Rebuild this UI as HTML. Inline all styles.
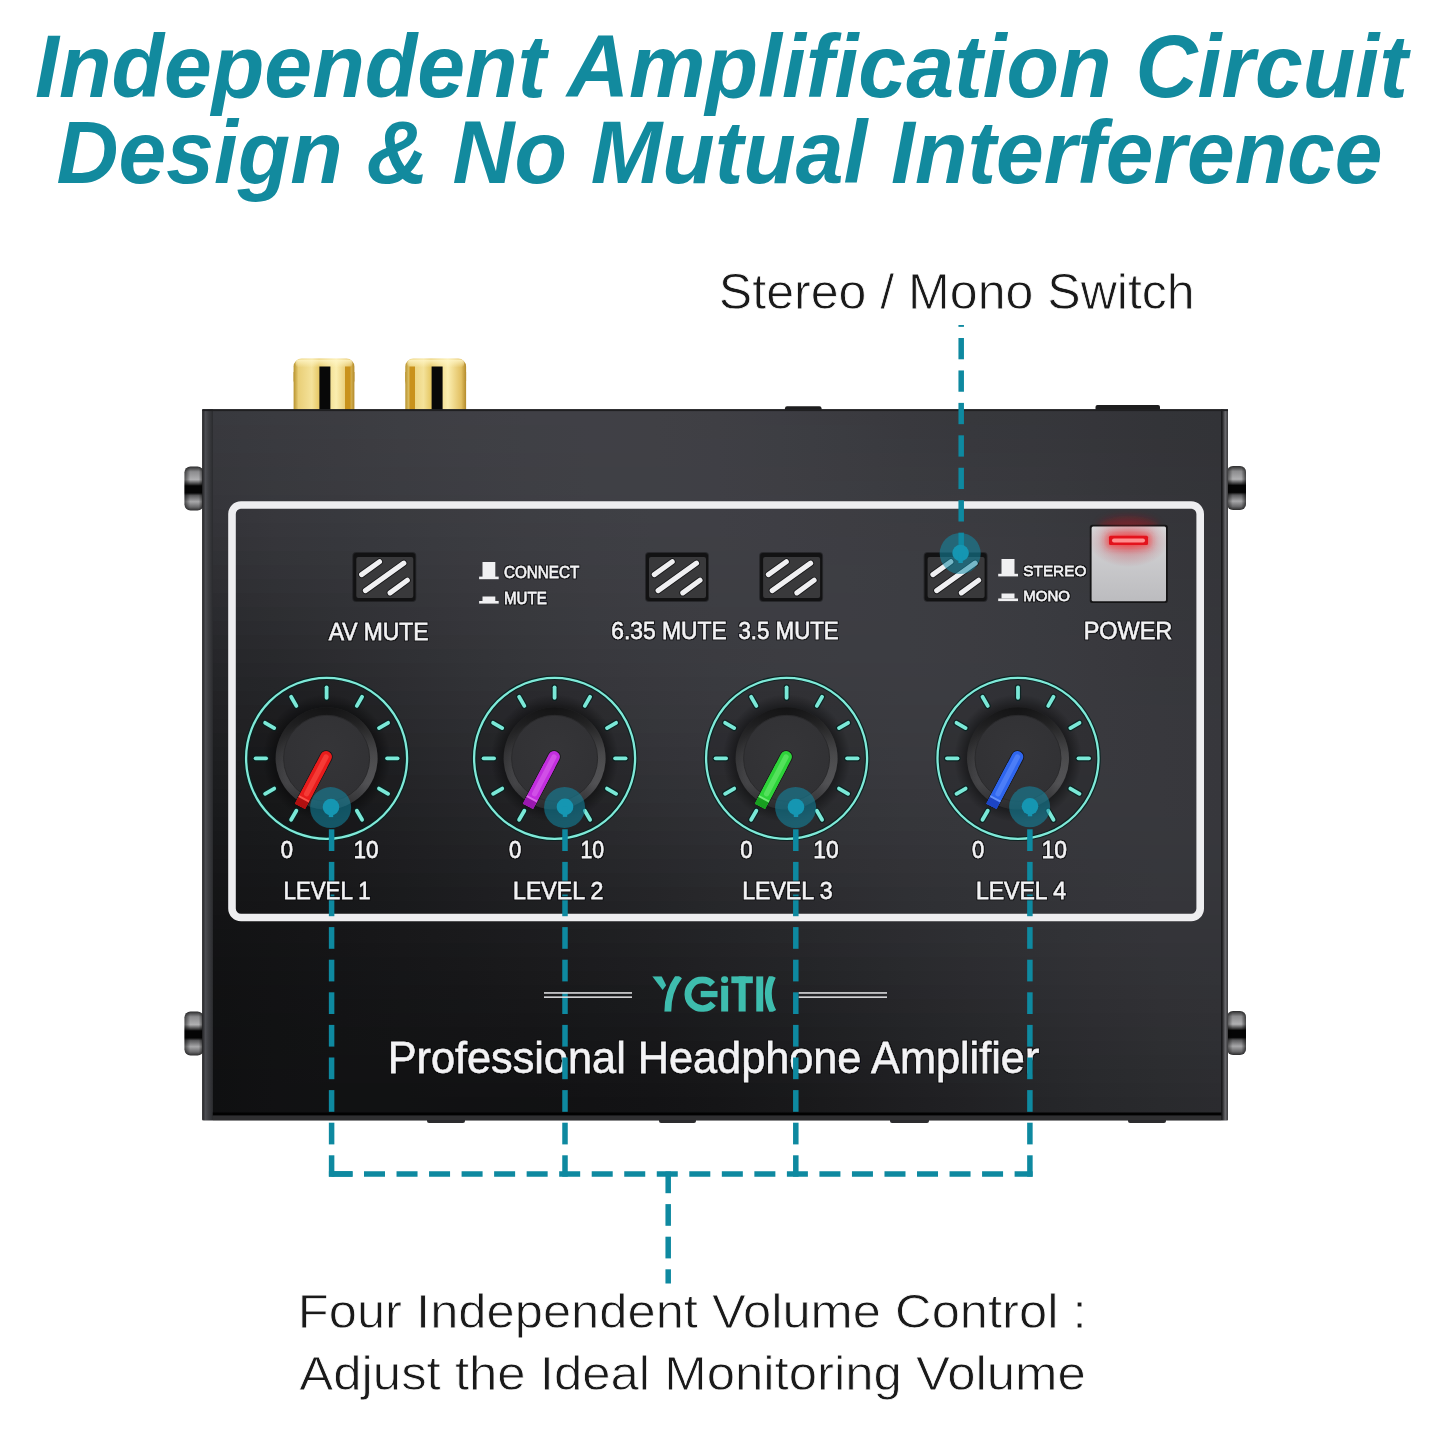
<!DOCTYPE html>
<html><head><meta charset="utf-8">
<style>
html,body{margin:0;padding:0;background:#fff;width:1445px;height:1445px;overflow:hidden}
svg{display:block}
text{font-family:"Liberation Sans",sans-serif}
.lbl{stroke:#f3f3f5;stroke-width:0.35px;filter:url(#halo)}
svg{will-change:transform}
</style></head>
<body>
<svg width="1445" height="1445" viewBox="0 0 1445 1445">
<defs>
  <linearGradient id="gold" x1="0" y1="0" x2="1" y2="0">
    <stop offset="0" stop-color="#b8932e"/>
    <stop offset="0.08" stop-color="#e9cf78"/>
    <stop offset="0.3" stop-color="#f4e29a"/>
    <stop offset="0.42" stop-color="#e6c865"/>
    <stop offset="0.7" stop-color="#fbeeb0"/>
    <stop offset="0.92" stop-color="#e2c062"/>
    <stop offset="1" stop-color="#b38a2a"/>
  </linearGradient>
  <linearGradient id="goldtop" x1="0" y1="0" x2="0" y2="1">
    <stop offset="0" stop-color="#fff6c8" stop-opacity="0.9"/>
    <stop offset="1" stop-color="#fff6c8" stop-opacity="0"/>
  </linearGradient>
  <linearGradient id="screw" x1="0" y1="0" x2="0" y2="1">
    <stop offset="0" stop-color="#2a2a2b"/>
    <stop offset="0.12" stop-color="#8c8c8e"/>
    <stop offset="0.3" stop-color="#b0b0b2"/>
    <stop offset="0.4" stop-color="#3a3a3b"/>
    <stop offset="0.44" stop-color="#050505"/>
    <stop offset="0.6" stop-color="#050505"/>
    <stop offset="0.66" stop-color="#5a5a5c"/>
    <stop offset="0.8" stop-color="#a8a8aa"/>
    <stop offset="0.92" stop-color="#6a6a6c"/>
    <stop offset="1" stop-color="#2a2a2b"/>
  </linearGradient>
  <linearGradient id="screwx" x1="0" y1="0" x2="1" y2="0">
    <stop offset="0" stop-color="#000" stop-opacity="0.55"/>
    <stop offset="0.3" stop-color="#000" stop-opacity="0"/>
    <stop offset="0.75" stop-color="#000" stop-opacity="0"/>
    <stop offset="1" stop-color="#000" stop-opacity="0.6"/>
  </linearGradient>
  <linearGradient id="pwr" x1="0" y1="0" x2="0" y2="1">
    <stop offset="0" stop-color="#d6d6d8"/>
    <stop offset="1" stop-color="#bcbcbf"/>
  </linearGradient>
  <linearGradient id="upper" gradientUnits="userSpaceOnUse" x1="0" y1="411" x2="0" y2="540">
    <stop offset="0" stop-color="#3a3b3f"/>
    <stop offset="1" stop-color="#36373b"/>
  </linearGradient>
  <radialGradient id="paneldark" cx="0.0" cy="1" r="0.75">
    <stop offset="0" stop-color="#000" stop-opacity="0.6"/>
    <stop offset="0.45" stop-color="#000" stop-opacity="0.35"/>
    <stop offset="1" stop-color="#000" stop-opacity="0"/>
  </radialGradient>
  <linearGradient id="facedark" gradientUnits="userSpaceOnUse" x1="800" y1="744" x2="558.6" y2="1274.6">
    <stop offset="0" stop-color="#000" stop-opacity="0"/>
    <stop offset="1" stop-color="#000" stop-opacity="0.917"/>
  </linearGradient>
  <linearGradient id="lower" gradientUnits="userSpaceOnUse" x1="213" y1="1112" x2="1221" y2="925">
    <stop offset="0" stop-color="#0d0d0e"/>
    <stop offset="0.45" stop-color="#141415"/>
    <stop offset="0.8" stop-color="#1f1f21"/>
    <stop offset="1" stop-color="#2a2a2d"/>
  </linearGradient>
  <linearGradient id="sideL" x1="0" y1="0" x2="1" y2="0">
    <stop offset="0" stop-color="#232325"/>
    <stop offset="0.3" stop-color="#4c4d52"/>
    <stop offset="0.6" stop-color="#3c3d41"/>
    <stop offset="1" stop-color="#2b2c2f"/>
  </linearGradient>
  <linearGradient id="sideR" x1="0" y1="0" x2="1" y2="0">
    <stop offset="0" stop-color="#0c0c0d"/>
    <stop offset="0.2" stop-color="#2a2a2c"/>
    <stop offset="0.6" stop-color="#6a6a6e"/>
    <stop offset="1" stop-color="#3a3a3c"/>
  </linearGradient>
  <radialGradient id="skirt" cx="0.62" cy="0.5" r="0.62">
    <stop offset="0" stop-color="#6a6a6c"/>
    <stop offset="0.6" stop-color="#4a4a4c"/>
    <stop offset="1" stop-color="#1e1e1f"/>
  </radialGradient>
  <radialGradient id="skirtL" cx="0.5" cy="0.62" r="0.55">
    <stop offset="0.75" stop-color="#3e3e41"/>
    <stop offset="1" stop-color="#2c2c2e"/>
  </radialGradient>
  <linearGradient id="skirtHL" x1="0" y1="0" x2="1" y2="0">
    <stop offset="0" stop-color="#fff" stop-opacity="0.04"/>
    <stop offset="0.5" stop-color="#fff" stop-opacity="0"/>
    <stop offset="0.82" stop-color="#fff" stop-opacity="0.06"/>
    <stop offset="1" stop-color="#fff" stop-opacity="0.16"/>
  </linearGradient>
  <linearGradient id="skirtTop" x1="0" y1="0" x2="0" y2="1">
    <stop offset="0" stop-color="#000" stop-opacity="0.55"/>
    <stop offset="0.45" stop-color="#000" stop-opacity="0.1"/>
    <stop offset="0.75" stop-color="#000" stop-opacity="0"/>
    <stop offset="1" stop-color="#000" stop-opacity="0.35"/>
  </linearGradient>
  <radialGradient id="cap" cx="0.5" cy="0.4" r="0.6">
    <stop offset="0" stop-color="#353538"/>
    <stop offset="1" stop-color="#313134"/>
  </radialGradient>
  <radialGradient id="knobshadow" cx="0.5" cy="0.5" r="0.5">
    <stop offset="0.7" stop-color="#000" stop-opacity="0.6"/>
    <stop offset="0.85" stop-color="#000" stop-opacity="0.3"/>
    <stop offset="1" stop-color="#000" stop-opacity="0"/>
  </radialGradient>
  <clipPath id="logoclip"><rect x="0" y="108" width="1500" height="342"/></clipPath>
  <filter id="halo" x="-5%" y="-20%" width="110%" height="140%">
    <feMorphology in="SourceAlpha" operator="dilate" radius="0.9" result="d"/>
    <feGaussianBlur in="d" stdDeviation="0.5" result="b"/>
    <feFlood flood-color="#0b0b0c" flood-opacity="0.8"/>
    <feComposite in2="b" operator="in" result="sh"/>
    <feMerge><feMergeNode in="sh"/><feMergeNode in="SourceGraphic"/></feMerge>
  </filter>
  <radialGradient id="ledglow" cx="0.5" cy="0.5" r="0.5">
    <stop offset="0" stop-color="#e8202a" stop-opacity="0.55"/>
    <stop offset="0.5" stop-color="#d02030" stop-opacity="0.25"/>
    <stop offset="1" stop-color="#c02030" stop-opacity="0"/>
  </radialGradient>
  <filter id="glow" x="-50%" y="-100%" width="200%" height="300%">
    <feGaussianBlur stdDeviation="3.5"/>
  </filter>
  <filter id="soft" x="-10%" y="-10%" width="120%" height="120%">
    <feGaussianBlur stdDeviation="0.6"/>
  </filter>
  <linearGradient id="fs0"><stop offset="0.000" stop-color="#38393e"/><stop offset="0.062" stop-color="#3a3b40"/><stop offset="0.125" stop-color="#3c3c41"/><stop offset="0.188" stop-color="#3d3e43"/><stop offset="0.250" stop-color="#3f3f45"/><stop offset="0.312" stop-color="#404046"/><stop offset="0.375" stop-color="#404046"/><stop offset="0.438" stop-color="#404045"/><stop offset="0.500" stop-color="#3f3f44"/><stop offset="0.562" stop-color="#3d3d43"/><stop offset="0.625" stop-color="#3b3b40"/><stop offset="0.688" stop-color="#39393e"/><stop offset="0.750" stop-color="#37383c"/><stop offset="0.812" stop-color="#36373b"/><stop offset="0.875" stop-color="#35353a"/><stop offset="0.938" stop-color="#333438"/><stop offset="1.000" stop-color="#323337"/></linearGradient>
<linearGradient id="fs1"><stop offset="0.000" stop-color="#38383d"/><stop offset="0.062" stop-color="#3a3a3f"/><stop offset="0.125" stop-color="#3b3c41"/><stop offset="0.188" stop-color="#3d3e43"/><stop offset="0.250" stop-color="#3f3f44"/><stop offset="0.312" stop-color="#3f4045"/><stop offset="0.375" stop-color="#404046"/><stop offset="0.438" stop-color="#404045"/><stop offset="0.500" stop-color="#3f3f44"/><stop offset="0.562" stop-color="#3d3e43"/><stop offset="0.625" stop-color="#3b3c41"/><stop offset="0.688" stop-color="#39393e"/><stop offset="0.750" stop-color="#37383d"/><stop offset="0.812" stop-color="#36373c"/><stop offset="0.875" stop-color="#35353a"/><stop offset="0.938" stop-color="#333438"/><stop offset="1.000" stop-color="#323337"/></linearGradient>
<linearGradient id="fs2"><stop offset="0.000" stop-color="#37383d"/><stop offset="0.062" stop-color="#393a3f"/><stop offset="0.125" stop-color="#3b3b40"/><stop offset="0.188" stop-color="#3d3d42"/><stop offset="0.250" stop-color="#3e3f44"/><stop offset="0.312" stop-color="#3f4045"/><stop offset="0.375" stop-color="#404046"/><stop offset="0.438" stop-color="#404045"/><stop offset="0.500" stop-color="#3f3f45"/><stop offset="0.562" stop-color="#3d3e43"/><stop offset="0.625" stop-color="#3b3c41"/><stop offset="0.688" stop-color="#393a3f"/><stop offset="0.750" stop-color="#38383d"/><stop offset="0.812" stop-color="#37373c"/><stop offset="0.875" stop-color="#35363a"/><stop offset="0.938" stop-color="#343438"/><stop offset="1.000" stop-color="#323337"/></linearGradient>
<linearGradient id="fs3"><stop offset="0.000" stop-color="#37373c"/><stop offset="0.062" stop-color="#39393e"/><stop offset="0.125" stop-color="#3b3b40"/><stop offset="0.188" stop-color="#3c3d42"/><stop offset="0.250" stop-color="#3e3e44"/><stop offset="0.312" stop-color="#3f3f45"/><stop offset="0.375" stop-color="#404045"/><stop offset="0.438" stop-color="#404045"/><stop offset="0.500" stop-color="#3f3f45"/><stop offset="0.562" stop-color="#3d3e43"/><stop offset="0.625" stop-color="#3c3c41"/><stop offset="0.688" stop-color="#3a3a3f"/><stop offset="0.750" stop-color="#38393e"/><stop offset="0.812" stop-color="#37383c"/><stop offset="0.875" stop-color="#36363b"/><stop offset="0.938" stop-color="#343439"/><stop offset="1.000" stop-color="#333337"/></linearGradient>
<linearGradient id="fs4"><stop offset="0.000" stop-color="#36373b"/><stop offset="0.062" stop-color="#38393e"/><stop offset="0.125" stop-color="#3a3b40"/><stop offset="0.188" stop-color="#3c3c41"/><stop offset="0.250" stop-color="#3d3e43"/><stop offset="0.312" stop-color="#3f3f44"/><stop offset="0.375" stop-color="#3f4045"/><stop offset="0.438" stop-color="#3f4045"/><stop offset="0.500" stop-color="#3f3f45"/><stop offset="0.562" stop-color="#3e3e43"/><stop offset="0.625" stop-color="#3c3c41"/><stop offset="0.688" stop-color="#3a3b3f"/><stop offset="0.750" stop-color="#39393e"/><stop offset="0.812" stop-color="#38383d"/><stop offset="0.875" stop-color="#36363b"/><stop offset="0.938" stop-color="#343539"/><stop offset="1.000" stop-color="#333338"/></linearGradient>
<linearGradient id="fs5"><stop offset="0.000" stop-color="#36363b"/><stop offset="0.062" stop-color="#38393d"/><stop offset="0.125" stop-color="#3a3a3f"/><stop offset="0.188" stop-color="#3b3c41"/><stop offset="0.250" stop-color="#3d3d43"/><stop offset="0.312" stop-color="#3e3f44"/><stop offset="0.375" stop-color="#3f4045"/><stop offset="0.438" stop-color="#3f4045"/><stop offset="0.500" stop-color="#3f3f45"/><stop offset="0.562" stop-color="#3e3e43"/><stop offset="0.625" stop-color="#3c3d42"/><stop offset="0.688" stop-color="#3a3b40"/><stop offset="0.750" stop-color="#393a3f"/><stop offset="0.812" stop-color="#38393d"/><stop offset="0.875" stop-color="#36373b"/><stop offset="0.938" stop-color="#343539"/><stop offset="1.000" stop-color="#333438"/></linearGradient>
<linearGradient id="fs6"><stop offset="0.000" stop-color="#35353a"/><stop offset="0.062" stop-color="#37383d"/><stop offset="0.125" stop-color="#39393e"/><stop offset="0.188" stop-color="#3b3b40"/><stop offset="0.250" stop-color="#3c3d42"/><stop offset="0.312" stop-color="#3e3e44"/><stop offset="0.375" stop-color="#3f3f45"/><stop offset="0.438" stop-color="#3f4045"/><stop offset="0.500" stop-color="#3f3f45"/><stop offset="0.562" stop-color="#3e3e44"/><stop offset="0.625" stop-color="#3c3d42"/><stop offset="0.688" stop-color="#3b3b40"/><stop offset="0.750" stop-color="#3a3a3f"/><stop offset="0.812" stop-color="#39393e"/><stop offset="0.875" stop-color="#37373c"/><stop offset="0.938" stop-color="#35353a"/><stop offset="1.000" stop-color="#333438"/></linearGradient>
<linearGradient id="fs7"><stop offset="0.000" stop-color="#343439"/><stop offset="0.062" stop-color="#37373c"/><stop offset="0.125" stop-color="#38393e"/><stop offset="0.188" stop-color="#3a3b3f"/><stop offset="0.250" stop-color="#3c3c41"/><stop offset="0.312" stop-color="#3d3e43"/><stop offset="0.375" stop-color="#3e3f44"/><stop offset="0.438" stop-color="#3f4045"/><stop offset="0.500" stop-color="#3f3f45"/><stop offset="0.562" stop-color="#3e3e44"/><stop offset="0.625" stop-color="#3d3d42"/><stop offset="0.688" stop-color="#3b3c41"/><stop offset="0.750" stop-color="#3a3b40"/><stop offset="0.812" stop-color="#393a3e"/><stop offset="0.875" stop-color="#37373c"/><stop offset="0.938" stop-color="#35353a"/><stop offset="1.000" stop-color="#343438"/></linearGradient>
<linearGradient id="fs8"><stop offset="0.000" stop-color="#333338"/><stop offset="0.062" stop-color="#36363b"/><stop offset="0.125" stop-color="#37383d"/><stop offset="0.188" stop-color="#393a3f"/><stop offset="0.250" stop-color="#3b3c41"/><stop offset="0.312" stop-color="#3d3d42"/><stop offset="0.375" stop-color="#3e3e44"/><stop offset="0.438" stop-color="#3f3f45"/><stop offset="0.500" stop-color="#3f3f45"/><stop offset="0.562" stop-color="#3e3e44"/><stop offset="0.625" stop-color="#3d3d42"/><stop offset="0.688" stop-color="#3c3c41"/><stop offset="0.750" stop-color="#3b3b40"/><stop offset="0.812" stop-color="#393a3f"/><stop offset="0.875" stop-color="#37383c"/><stop offset="0.938" stop-color="#35363a"/><stop offset="1.000" stop-color="#343439"/></linearGradient>
<linearGradient id="fs9"><stop offset="0.000" stop-color="#323236"/><stop offset="0.062" stop-color="#35353a"/><stop offset="0.125" stop-color="#36373c"/><stop offset="0.188" stop-color="#38393e"/><stop offset="0.250" stop-color="#3a3b40"/><stop offset="0.312" stop-color="#3c3d42"/><stop offset="0.375" stop-color="#3d3e43"/><stop offset="0.438" stop-color="#3e3f44"/><stop offset="0.500" stop-color="#3f3f44"/><stop offset="0.562" stop-color="#3e3e44"/><stop offset="0.625" stop-color="#3d3d43"/><stop offset="0.688" stop-color="#3c3c41"/><stop offset="0.750" stop-color="#3b3c41"/><stop offset="0.812" stop-color="#3a3a3f"/><stop offset="0.875" stop-color="#38383d"/><stop offset="0.938" stop-color="#35363b"/><stop offset="1.000" stop-color="#343539"/></linearGradient>
<linearGradient id="fs10"><stop offset="0.000" stop-color="#303135"/><stop offset="0.062" stop-color="#333438"/><stop offset="0.125" stop-color="#35363a"/><stop offset="0.188" stop-color="#37383d"/><stop offset="0.250" stop-color="#3a3a3f"/><stop offset="0.312" stop-color="#3b3c41"/><stop offset="0.375" stop-color="#3d3d43"/><stop offset="0.438" stop-color="#3e3e44"/><stop offset="0.500" stop-color="#3e3f44"/><stop offset="0.562" stop-color="#3e3e44"/><stop offset="0.625" stop-color="#3d3d43"/><stop offset="0.688" stop-color="#3c3d42"/><stop offset="0.750" stop-color="#3b3c41"/><stop offset="0.812" stop-color="#3a3a3f"/><stop offset="0.875" stop-color="#38383d"/><stop offset="0.938" stop-color="#36363b"/><stop offset="1.000" stop-color="#343539"/></linearGradient>
<linearGradient id="fs11"><stop offset="0.000" stop-color="#2f2f33"/><stop offset="0.062" stop-color="#323237"/><stop offset="0.125" stop-color="#343539"/><stop offset="0.188" stop-color="#36373c"/><stop offset="0.250" stop-color="#39393e"/><stop offset="0.312" stop-color="#3b3b40"/><stop offset="0.375" stop-color="#3c3d42"/><stop offset="0.438" stop-color="#3d3e43"/><stop offset="0.500" stop-color="#3e3e44"/><stop offset="0.562" stop-color="#3e3e43"/><stop offset="0.625" stop-color="#3d3e43"/><stop offset="0.688" stop-color="#3c3d42"/><stop offset="0.750" stop-color="#3c3c41"/><stop offset="0.812" stop-color="#3a3b40"/><stop offset="0.875" stop-color="#38383d"/><stop offset="0.938" stop-color="#36363b"/><stop offset="1.000" stop-color="#343539"/></linearGradient>
<linearGradient id="fs12"><stop offset="0.000" stop-color="#2e2e32"/><stop offset="0.062" stop-color="#303135"/><stop offset="0.125" stop-color="#333338"/><stop offset="0.188" stop-color="#35363a"/><stop offset="0.250" stop-color="#38383d"/><stop offset="0.312" stop-color="#3a3a3f"/><stop offset="0.375" stop-color="#3c3c41"/><stop offset="0.438" stop-color="#3d3d43"/><stop offset="0.500" stop-color="#3e3e43"/><stop offset="0.562" stop-color="#3d3e43"/><stop offset="0.625" stop-color="#3d3e43"/><stop offset="0.688" stop-color="#3c3d42"/><stop offset="0.750" stop-color="#3c3c41"/><stop offset="0.812" stop-color="#3a3b40"/><stop offset="0.875" stop-color="#38393d"/><stop offset="0.938" stop-color="#36373b"/><stop offset="1.000" stop-color="#35353a"/></linearGradient>
<linearGradient id="fs13"><stop offset="0.000" stop-color="#2c2c30"/><stop offset="0.062" stop-color="#2f2f33"/><stop offset="0.125" stop-color="#313236"/><stop offset="0.188" stop-color="#343539"/><stop offset="0.250" stop-color="#37373c"/><stop offset="0.312" stop-color="#393a3e"/><stop offset="0.375" stop-color="#3b3b40"/><stop offset="0.438" stop-color="#3c3d42"/><stop offset="0.500" stop-color="#3d3e43"/><stop offset="0.562" stop-color="#3d3e43"/><stop offset="0.625" stop-color="#3d3d43"/><stop offset="0.688" stop-color="#3c3d42"/><stop offset="0.750" stop-color="#3c3c41"/><stop offset="0.812" stop-color="#3a3b40"/><stop offset="0.875" stop-color="#38393e"/><stop offset="0.938" stop-color="#36373b"/><stop offset="1.000" stop-color="#35353a"/></linearGradient>
<linearGradient id="fs14"><stop offset="0.000" stop-color="#2a2b2f"/><stop offset="0.062" stop-color="#2d2e31"/><stop offset="0.125" stop-color="#303135"/><stop offset="0.188" stop-color="#333338"/><stop offset="0.250" stop-color="#36363b"/><stop offset="0.312" stop-color="#38393d"/><stop offset="0.375" stop-color="#3a3b40"/><stop offset="0.438" stop-color="#3c3c41"/><stop offset="0.500" stop-color="#3d3d42"/><stop offset="0.562" stop-color="#3d3d43"/><stop offset="0.625" stop-color="#3d3d43"/><stop offset="0.688" stop-color="#3c3d42"/><stop offset="0.750" stop-color="#3c3c41"/><stop offset="0.812" stop-color="#3a3b40"/><stop offset="0.875" stop-color="#38393e"/><stop offset="0.938" stop-color="#36373b"/><stop offset="1.000" stop-color="#35363a"/></linearGradient>
<linearGradient id="fs15"><stop offset="0.000" stop-color="#29292d"/><stop offset="0.062" stop-color="#2b2c30"/><stop offset="0.125" stop-color="#2f2f33"/><stop offset="0.188" stop-color="#323236"/><stop offset="0.250" stop-color="#35353a"/><stop offset="0.312" stop-color="#37383c"/><stop offset="0.375" stop-color="#393a3f"/><stop offset="0.438" stop-color="#3b3c41"/><stop offset="0.500" stop-color="#3c3d42"/><stop offset="0.562" stop-color="#3d3d42"/><stop offset="0.625" stop-color="#3d3d42"/><stop offset="0.688" stop-color="#3c3d42"/><stop offset="0.750" stop-color="#3c3c41"/><stop offset="0.812" stop-color="#3a3b40"/><stop offset="0.875" stop-color="#38393e"/><stop offset="0.938" stop-color="#37373c"/><stop offset="1.000" stop-color="#35363a"/></linearGradient>
<linearGradient id="fs16"><stop offset="0.000" stop-color="#27282b"/><stop offset="0.062" stop-color="#2a2a2e"/><stop offset="0.125" stop-color="#2d2e31"/><stop offset="0.188" stop-color="#313135"/><stop offset="0.250" stop-color="#343438"/><stop offset="0.312" stop-color="#36373b"/><stop offset="0.375" stop-color="#39393e"/><stop offset="0.438" stop-color="#3a3b40"/><stop offset="0.500" stop-color="#3b3c41"/><stop offset="0.562" stop-color="#3c3d42"/><stop offset="0.625" stop-color="#3c3d42"/><stop offset="0.688" stop-color="#3c3d42"/><stop offset="0.750" stop-color="#3c3c41"/><stop offset="0.812" stop-color="#3a3b40"/><stop offset="0.875" stop-color="#39393e"/><stop offset="0.938" stop-color="#37373c"/><stop offset="1.000" stop-color="#35363b"/></linearGradient>
<linearGradient id="fs17"><stop offset="0.000" stop-color="#26262a"/><stop offset="0.062" stop-color="#28292c"/><stop offset="0.125" stop-color="#2c2c30"/><stop offset="0.188" stop-color="#2f3034"/><stop offset="0.250" stop-color="#323337"/><stop offset="0.312" stop-color="#35363a"/><stop offset="0.375" stop-color="#38383d"/><stop offset="0.438" stop-color="#393a3f"/><stop offset="0.500" stop-color="#3b3b40"/><stop offset="0.562" stop-color="#3c3c41"/><stop offset="0.625" stop-color="#3c3d42"/><stop offset="0.688" stop-color="#3c3d42"/><stop offset="0.750" stop-color="#3c3c41"/><stop offset="0.812" stop-color="#3a3b40"/><stop offset="0.875" stop-color="#39393e"/><stop offset="0.938" stop-color="#37373c"/><stop offset="1.000" stop-color="#36363b"/></linearGradient>
<linearGradient id="fs18"><stop offset="0.000" stop-color="#242528"/><stop offset="0.062" stop-color="#27272b"/><stop offset="0.125" stop-color="#2a2b2e"/><stop offset="0.188" stop-color="#2e2e32"/><stop offset="0.250" stop-color="#313236"/><stop offset="0.312" stop-color="#343539"/><stop offset="0.375" stop-color="#37373c"/><stop offset="0.438" stop-color="#39393e"/><stop offset="0.500" stop-color="#3a3b40"/><stop offset="0.562" stop-color="#3b3c41"/><stop offset="0.625" stop-color="#3c3c41"/><stop offset="0.688" stop-color="#3c3c42"/><stop offset="0.750" stop-color="#3b3c41"/><stop offset="0.812" stop-color="#3a3b40"/><stop offset="0.875" stop-color="#39393e"/><stop offset="0.938" stop-color="#37373c"/><stop offset="1.000" stop-color="#36363b"/></linearGradient>
<linearGradient id="fs19"><stop offset="0.000" stop-color="#232427"/><stop offset="0.062" stop-color="#252629"/><stop offset="0.125" stop-color="#29292d"/><stop offset="0.188" stop-color="#2d2d31"/><stop offset="0.250" stop-color="#303135"/><stop offset="0.312" stop-color="#333438"/><stop offset="0.375" stop-color="#36363b"/><stop offset="0.438" stop-color="#38383d"/><stop offset="0.500" stop-color="#393a3f"/><stop offset="0.562" stop-color="#3b3b40"/><stop offset="0.625" stop-color="#3b3c41"/><stop offset="0.688" stop-color="#3c3c41"/><stop offset="0.750" stop-color="#3b3c41"/><stop offset="0.812" stop-color="#3a3b40"/><stop offset="0.875" stop-color="#39393e"/><stop offset="0.938" stop-color="#37383c"/><stop offset="1.000" stop-color="#36373b"/></linearGradient>
<linearGradient id="fs20"><stop offset="0.000" stop-color="#222225"/><stop offset="0.062" stop-color="#242528"/><stop offset="0.125" stop-color="#28282c"/><stop offset="0.188" stop-color="#2b2c30"/><stop offset="0.250" stop-color="#2f2f33"/><stop offset="0.312" stop-color="#323237"/><stop offset="0.375" stop-color="#35353a"/><stop offset="0.438" stop-color="#37373c"/><stop offset="0.500" stop-color="#39393e"/><stop offset="0.562" stop-color="#3a3a3f"/><stop offset="0.625" stop-color="#3b3b40"/><stop offset="0.688" stop-color="#3b3c41"/><stop offset="0.750" stop-color="#3b3c41"/><stop offset="0.812" stop-color="#3a3b40"/><stop offset="0.875" stop-color="#39393e"/><stop offset="0.938" stop-color="#37383d"/><stop offset="1.000" stop-color="#36373b"/></linearGradient>
<linearGradient id="fs21"><stop offset="0.000" stop-color="#212124"/><stop offset="0.062" stop-color="#232326"/><stop offset="0.125" stop-color="#26272a"/><stop offset="0.188" stop-color="#2a2b2e"/><stop offset="0.250" stop-color="#2e2e32"/><stop offset="0.312" stop-color="#313135"/><stop offset="0.375" stop-color="#343438"/><stop offset="0.438" stop-color="#36373b"/><stop offset="0.500" stop-color="#38383d"/><stop offset="0.562" stop-color="#393a3f"/><stop offset="0.625" stop-color="#3a3b40"/><stop offset="0.688" stop-color="#3b3b40"/><stop offset="0.750" stop-color="#3b3b40"/><stop offset="0.812" stop-color="#3a3a3f"/><stop offset="0.875" stop-color="#39393e"/><stop offset="0.938" stop-color="#38383d"/><stop offset="1.000" stop-color="#36373c"/></linearGradient>
<linearGradient id="fs22"><stop offset="0.000" stop-color="#202023"/><stop offset="0.062" stop-color="#222225"/><stop offset="0.125" stop-color="#252629"/><stop offset="0.188" stop-color="#29292d"/><stop offset="0.250" stop-color="#2c2d31"/><stop offset="0.312" stop-color="#303034"/><stop offset="0.375" stop-color="#323337"/><stop offset="0.438" stop-color="#35363a"/><stop offset="0.500" stop-color="#37373c"/><stop offset="0.562" stop-color="#38393e"/><stop offset="0.625" stop-color="#3a3a3f"/><stop offset="0.688" stop-color="#3a3b40"/><stop offset="0.750" stop-color="#3a3b40"/><stop offset="0.812" stop-color="#3a3a3f"/><stop offset="0.875" stop-color="#39393e"/><stop offset="0.938" stop-color="#38383d"/><stop offset="1.000" stop-color="#37373c"/></linearGradient>
<linearGradient id="fs23"><stop offset="0.000" stop-color="#1e1f21"/><stop offset="0.062" stop-color="#212124"/><stop offset="0.125" stop-color="#242427"/><stop offset="0.188" stop-color="#28282b"/><stop offset="0.250" stop-color="#2b2c2f"/><stop offset="0.312" stop-color="#2e2f33"/><stop offset="0.375" stop-color="#313236"/><stop offset="0.438" stop-color="#343439"/><stop offset="0.500" stop-color="#36363b"/><stop offset="0.562" stop-color="#38383d"/><stop offset="0.625" stop-color="#393a3e"/><stop offset="0.688" stop-color="#3a3a3f"/><stop offset="0.750" stop-color="#3a3b3f"/><stop offset="0.812" stop-color="#3a3a3f"/><stop offset="0.875" stop-color="#39393e"/><stop offset="0.938" stop-color="#38383d"/><stop offset="1.000" stop-color="#37373c"/></linearGradient>
<linearGradient id="fs24"><stop offset="0.000" stop-color="#1d1e20"/><stop offset="0.062" stop-color="#1f2023"/><stop offset="0.125" stop-color="#232326"/><stop offset="0.188" stop-color="#26272a"/><stop offset="0.250" stop-color="#2a2a2e"/><stop offset="0.312" stop-color="#2d2e31"/><stop offset="0.375" stop-color="#303135"/><stop offset="0.438" stop-color="#333338"/><stop offset="0.500" stop-color="#35353a"/><stop offset="0.562" stop-color="#37373c"/><stop offset="0.625" stop-color="#38393e"/><stop offset="0.688" stop-color="#393a3f"/><stop offset="0.750" stop-color="#3a3a3f"/><stop offset="0.812" stop-color="#393a3f"/><stop offset="0.875" stop-color="#39393e"/><stop offset="0.938" stop-color="#38383d"/><stop offset="1.000" stop-color="#37373c"/></linearGradient>
<linearGradient id="fs25"><stop offset="0.000" stop-color="#1c1d1f"/><stop offset="0.062" stop-color="#1e1f21"/><stop offset="0.125" stop-color="#212225"/><stop offset="0.188" stop-color="#252629"/><stop offset="0.250" stop-color="#29292d"/><stop offset="0.312" stop-color="#2c2c30"/><stop offset="0.375" stop-color="#2f2f33"/><stop offset="0.438" stop-color="#323236"/><stop offset="0.500" stop-color="#343439"/><stop offset="0.562" stop-color="#36363b"/><stop offset="0.625" stop-color="#37383d"/><stop offset="0.688" stop-color="#39393e"/><stop offset="0.750" stop-color="#39393e"/><stop offset="0.812" stop-color="#39393e"/><stop offset="0.875" stop-color="#39393e"/><stop offset="0.938" stop-color="#38383d"/><stop offset="1.000" stop-color="#37373c"/></linearGradient>
<linearGradient id="fs26"><stop offset="0.000" stop-color="#1b1c1e"/><stop offset="0.062" stop-color="#1d1e20"/><stop offset="0.125" stop-color="#202124"/><stop offset="0.188" stop-color="#242427"/><stop offset="0.250" stop-color="#27282b"/><stop offset="0.312" stop-color="#2a2b2f"/><stop offset="0.375" stop-color="#2e2e32"/><stop offset="0.438" stop-color="#303135"/><stop offset="0.500" stop-color="#333337"/><stop offset="0.562" stop-color="#35353a"/><stop offset="0.625" stop-color="#36373c"/><stop offset="0.688" stop-color="#38383d"/><stop offset="0.750" stop-color="#38393e"/><stop offset="0.812" stop-color="#38393e"/><stop offset="0.875" stop-color="#38393e"/><stop offset="0.938" stop-color="#38383d"/><stop offset="1.000" stop-color="#37373c"/></linearGradient>
<linearGradient id="fs27"><stop offset="0.000" stop-color="#1a1b1d"/><stop offset="0.062" stop-color="#1c1d1f"/><stop offset="0.125" stop-color="#1f2022"/><stop offset="0.188" stop-color="#232326"/><stop offset="0.250" stop-color="#26262a"/><stop offset="0.312" stop-color="#292a2d"/><stop offset="0.375" stop-color="#2c2d30"/><stop offset="0.438" stop-color="#2f3034"/><stop offset="0.500" stop-color="#313236"/><stop offset="0.562" stop-color="#333438"/><stop offset="0.625" stop-color="#35363a"/><stop offset="0.688" stop-color="#37373c"/><stop offset="0.750" stop-color="#38383d"/><stop offset="0.812" stop-color="#38393d"/><stop offset="0.875" stop-color="#38393d"/><stop offset="0.938" stop-color="#38383d"/><stop offset="1.000" stop-color="#37373c"/></linearGradient>
<linearGradient id="fs28"><stop offset="0.000" stop-color="#191a1c"/><stop offset="0.062" stop-color="#1b1c1e"/><stop offset="0.125" stop-color="#1e1f21"/><stop offset="0.188" stop-color="#212225"/><stop offset="0.250" stop-color="#252528"/><stop offset="0.312" stop-color="#28282c"/><stop offset="0.375" stop-color="#2b2b2f"/><stop offset="0.438" stop-color="#2e2e32"/><stop offset="0.500" stop-color="#303135"/><stop offset="0.562" stop-color="#323337"/><stop offset="0.625" stop-color="#343539"/><stop offset="0.688" stop-color="#36373b"/><stop offset="0.750" stop-color="#37373c"/><stop offset="0.812" stop-color="#37383d"/><stop offset="0.875" stop-color="#38383d"/><stop offset="0.938" stop-color="#38383d"/><stop offset="1.000" stop-color="#37373c"/></linearGradient>
<linearGradient id="fs29"><stop offset="0.000" stop-color="#18191b"/><stop offset="0.062" stop-color="#1a1b1d"/><stop offset="0.125" stop-color="#1d1d20"/><stop offset="0.188" stop-color="#202123"/><stop offset="0.250" stop-color="#232427"/><stop offset="0.312" stop-color="#26272a"/><stop offset="0.375" stop-color="#292a2d"/><stop offset="0.438" stop-color="#2c2d30"/><stop offset="0.500" stop-color="#2f2f33"/><stop offset="0.562" stop-color="#313236"/><stop offset="0.625" stop-color="#333438"/><stop offset="0.688" stop-color="#35363a"/><stop offset="0.750" stop-color="#36373b"/><stop offset="0.812" stop-color="#37373c"/><stop offset="0.875" stop-color="#37383d"/><stop offset="0.938" stop-color="#37383d"/><stop offset="1.000" stop-color="#37373c"/></linearGradient>
<linearGradient id="fs30"><stop offset="0.000" stop-color="#17181a"/><stop offset="0.062" stop-color="#191a1c"/><stop offset="0.125" stop-color="#1c1c1f"/><stop offset="0.188" stop-color="#1f1f22"/><stop offset="0.250" stop-color="#222325"/><stop offset="0.312" stop-color="#252629"/><stop offset="0.375" stop-color="#28282c"/><stop offset="0.438" stop-color="#2b2b2f"/><stop offset="0.500" stop-color="#2d2e32"/><stop offset="0.562" stop-color="#303034"/><stop offset="0.625" stop-color="#323337"/><stop offset="0.688" stop-color="#343439"/><stop offset="0.750" stop-color="#35363a"/><stop offset="0.812" stop-color="#36373b"/><stop offset="0.875" stop-color="#37373c"/><stop offset="0.938" stop-color="#37383c"/><stop offset="1.000" stop-color="#37373c"/></linearGradient>
<linearGradient id="fs31"><stop offset="0.000" stop-color="#171719"/><stop offset="0.062" stop-color="#18191b"/><stop offset="0.125" stop-color="#1b1b1e"/><stop offset="0.188" stop-color="#1e1e21"/><stop offset="0.250" stop-color="#212124"/><stop offset="0.312" stop-color="#242427"/><stop offset="0.375" stop-color="#27272a"/><stop offset="0.438" stop-color="#292a2d"/><stop offset="0.500" stop-color="#2c2c30"/><stop offset="0.562" stop-color="#2e2f33"/><stop offset="0.625" stop-color="#313135"/><stop offset="0.688" stop-color="#333338"/><stop offset="0.750" stop-color="#343539"/><stop offset="0.812" stop-color="#36363b"/><stop offset="0.875" stop-color="#36373c"/><stop offset="0.938" stop-color="#37373c"/><stop offset="1.000" stop-color="#36373c"/></linearGradient>
<linearGradient id="fs32"><stop offset="0.000" stop-color="#161618"/><stop offset="0.062" stop-color="#17181a"/><stop offset="0.125" stop-color="#1a1a1c"/><stop offset="0.188" stop-color="#1d1d20"/><stop offset="0.250" stop-color="#1f2023"/><stop offset="0.312" stop-color="#222326"/><stop offset="0.375" stop-color="#252629"/><stop offset="0.438" stop-color="#28282c"/><stop offset="0.500" stop-color="#2a2b2f"/><stop offset="0.562" stop-color="#2d2e31"/><stop offset="0.625" stop-color="#303034"/><stop offset="0.688" stop-color="#323236"/><stop offset="0.750" stop-color="#333438"/><stop offset="0.812" stop-color="#35353a"/><stop offset="0.875" stop-color="#36363b"/><stop offset="0.938" stop-color="#36373c"/><stop offset="1.000" stop-color="#36373b"/></linearGradient>
<linearGradient id="fs33"><stop offset="0.000" stop-color="#151517"/><stop offset="0.062" stop-color="#161719"/><stop offset="0.125" stop-color="#19191b"/><stop offset="0.188" stop-color="#1b1c1e"/><stop offset="0.250" stop-color="#1e1f21"/><stop offset="0.312" stop-color="#212124"/><stop offset="0.375" stop-color="#242427"/><stop offset="0.438" stop-color="#26272a"/><stop offset="0.500" stop-color="#292a2d"/><stop offset="0.562" stop-color="#2c2c30"/><stop offset="0.625" stop-color="#2e2f33"/><stop offset="0.688" stop-color="#313135"/><stop offset="0.750" stop-color="#323337"/><stop offset="0.812" stop-color="#343439"/><stop offset="0.875" stop-color="#35363a"/><stop offset="0.938" stop-color="#36373b"/><stop offset="1.000" stop-color="#36363b"/></linearGradient>
<linearGradient id="fs34"><stop offset="0.000" stop-color="#141516"/><stop offset="0.062" stop-color="#161618"/><stop offset="0.125" stop-color="#18181a"/><stop offset="0.188" stop-color="#1a1b1d"/><stop offset="0.250" stop-color="#1d1d20"/><stop offset="0.312" stop-color="#202023"/><stop offset="0.375" stop-color="#222326"/><stop offset="0.438" stop-color="#252528"/><stop offset="0.500" stop-color="#28282b"/><stop offset="0.562" stop-color="#2a2b2e"/><stop offset="0.625" stop-color="#2d2d31"/><stop offset="0.688" stop-color="#2f3034"/><stop offset="0.750" stop-color="#313236"/><stop offset="0.812" stop-color="#333438"/><stop offset="0.875" stop-color="#35353a"/><stop offset="0.938" stop-color="#36363b"/><stop offset="1.000" stop-color="#35363a"/></linearGradient>
<linearGradient id="fs35"><stop offset="0.000" stop-color="#141416"/><stop offset="0.062" stop-color="#151517"/><stop offset="0.125" stop-color="#17181a"/><stop offset="0.188" stop-color="#191a1c"/><stop offset="0.250" stop-color="#1c1c1f"/><stop offset="0.312" stop-color="#1e1f21"/><stop offset="0.375" stop-color="#212124"/><stop offset="0.438" stop-color="#232427"/><stop offset="0.500" stop-color="#26272a"/><stop offset="0.562" stop-color="#29292d"/><stop offset="0.625" stop-color="#2c2c30"/><stop offset="0.688" stop-color="#2e2f33"/><stop offset="0.750" stop-color="#303135"/><stop offset="0.812" stop-color="#323337"/><stop offset="0.875" stop-color="#343439"/><stop offset="0.938" stop-color="#35353a"/><stop offset="1.000" stop-color="#35353a"/></linearGradient>
<linearGradient id="fs36"><stop offset="0.000" stop-color="#131315"/><stop offset="0.062" stop-color="#141516"/><stop offset="0.125" stop-color="#161719"/><stop offset="0.188" stop-color="#18191b"/><stop offset="0.250" stop-color="#1b1b1d"/><stop offset="0.312" stop-color="#1d1e20"/><stop offset="0.375" stop-color="#202023"/><stop offset="0.438" stop-color="#222325"/><stop offset="0.500" stop-color="#252528"/><stop offset="0.562" stop-color="#28282b"/><stop offset="0.625" stop-color="#2a2b2e"/><stop offset="0.688" stop-color="#2d2d31"/><stop offset="0.750" stop-color="#2f3034"/><stop offset="0.812" stop-color="#313236"/><stop offset="0.875" stop-color="#333438"/><stop offset="0.938" stop-color="#343539"/><stop offset="1.000" stop-color="#343539"/></linearGradient>
<linearGradient id="fs37"><stop offset="0.000" stop-color="#121314"/><stop offset="0.062" stop-color="#141416"/><stop offset="0.125" stop-color="#161618"/><stop offset="0.188" stop-color="#18181a"/><stop offset="0.250" stop-color="#1a1a1c"/><stop offset="0.312" stop-color="#1c1c1f"/><stop offset="0.375" stop-color="#1e1f21"/><stop offset="0.438" stop-color="#212124"/><stop offset="0.500" stop-color="#232427"/><stop offset="0.562" stop-color="#26272a"/><stop offset="0.625" stop-color="#292a2d"/><stop offset="0.688" stop-color="#2c2c30"/><stop offset="0.750" stop-color="#2e2f33"/><stop offset="0.812" stop-color="#303135"/><stop offset="0.875" stop-color="#323337"/><stop offset="0.938" stop-color="#343439"/><stop offset="1.000" stop-color="#343439"/></linearGradient>
<linearGradient id="fs38"><stop offset="0.000" stop-color="#121214"/><stop offset="0.062" stop-color="#131415"/><stop offset="0.125" stop-color="#151517"/><stop offset="0.188" stop-color="#171719"/><stop offset="0.250" stop-color="#18191b"/><stop offset="0.312" stop-color="#1b1b1d"/><stop offset="0.375" stop-color="#1d1d20"/><stop offset="0.438" stop-color="#1f2022"/><stop offset="0.500" stop-color="#222225"/><stop offset="0.562" stop-color="#252528"/><stop offset="0.625" stop-color="#28282c"/><stop offset="0.688" stop-color="#2a2b2f"/><stop offset="0.750" stop-color="#2d2e31"/><stop offset="0.812" stop-color="#2f3034"/><stop offset="0.875" stop-color="#323236"/><stop offset="0.938" stop-color="#333338"/><stop offset="1.000" stop-color="#333438"/></linearGradient>
<linearGradient id="fs39"><stop offset="0.000" stop-color="#111213"/><stop offset="0.062" stop-color="#131315"/><stop offset="0.125" stop-color="#141517"/><stop offset="0.188" stop-color="#161618"/><stop offset="0.250" stop-color="#18181a"/><stop offset="0.312" stop-color="#1a1a1c"/><stop offset="0.375" stop-color="#1c1c1f"/><stop offset="0.438" stop-color="#1e1e21"/><stop offset="0.500" stop-color="#212124"/><stop offset="0.562" stop-color="#232427"/><stop offset="0.625" stop-color="#26272a"/><stop offset="0.688" stop-color="#292a2d"/><stop offset="0.750" stop-color="#2c2c30"/><stop offset="0.812" stop-color="#2e2f33"/><stop offset="0.875" stop-color="#313135"/><stop offset="0.938" stop-color="#323337"/><stop offset="1.000" stop-color="#333338"/></linearGradient>
<linearGradient id="fs40"><stop offset="0.000" stop-color="#111113"/><stop offset="0.062" stop-color="#121314"/><stop offset="0.125" stop-color="#141416"/><stop offset="0.188" stop-color="#151618"/><stop offset="0.250" stop-color="#171719"/><stop offset="0.312" stop-color="#19191b"/><stop offset="0.375" stop-color="#1b1b1d"/><stop offset="0.438" stop-color="#1d1d20"/><stop offset="0.500" stop-color="#1f2022"/><stop offset="0.562" stop-color="#222325"/><stop offset="0.625" stop-color="#252629"/><stop offset="0.688" stop-color="#28292c"/><stop offset="0.750" stop-color="#2b2b2f"/><stop offset="0.812" stop-color="#2d2e32"/><stop offset="0.875" stop-color="#303034"/><stop offset="0.938" stop-color="#313236"/><stop offset="1.000" stop-color="#323337"/></linearGradient>
<linearGradient id="fs41"><stop offset="0.000" stop-color="#111112"/><stop offset="0.062" stop-color="#121214"/><stop offset="0.125" stop-color="#131416"/><stop offset="0.188" stop-color="#151517"/><stop offset="0.250" stop-color="#161618"/><stop offset="0.312" stop-color="#18181a"/><stop offset="0.375" stop-color="#191a1c"/><stop offset="0.438" stop-color="#1b1c1e"/><stop offset="0.500" stop-color="#1e1e21"/><stop offset="0.562" stop-color="#212124"/><stop offset="0.625" stop-color="#242427"/><stop offset="0.688" stop-color="#27272b"/><stop offset="0.750" stop-color="#2a2a2e"/><stop offset="0.812" stop-color="#2c2d31"/><stop offset="0.875" stop-color="#2f2f33"/><stop offset="0.938" stop-color="#313135"/><stop offset="1.000" stop-color="#313236"/></linearGradient>
<linearGradient id="fs42"><stop offset="0.000" stop-color="#101112"/><stop offset="0.062" stop-color="#121214"/><stop offset="0.125" stop-color="#131315"/><stop offset="0.188" stop-color="#141516"/><stop offset="0.250" stop-color="#151618"/><stop offset="0.312" stop-color="#171719"/><stop offset="0.375" stop-color="#18191b"/><stop offset="0.438" stop-color="#1a1b1d"/><stop offset="0.500" stop-color="#1d1d1f"/><stop offset="0.562" stop-color="#1f2023"/><stop offset="0.625" stop-color="#232326"/><stop offset="0.688" stop-color="#262629"/><stop offset="0.750" stop-color="#29292c"/><stop offset="0.812" stop-color="#2b2c30"/><stop offset="0.875" stop-color="#2e2e32"/><stop offset="0.938" stop-color="#303034"/><stop offset="1.000" stop-color="#313135"/></linearGradient>
<linearGradient id="fs43"><stop offset="0.000" stop-color="#101112"/><stop offset="0.062" stop-color="#111213"/><stop offset="0.125" stop-color="#131315"/><stop offset="0.188" stop-color="#141416"/><stop offset="0.250" stop-color="#151517"/><stop offset="0.312" stop-color="#161618"/><stop offset="0.375" stop-color="#17181a"/><stop offset="0.438" stop-color="#19191c"/><stop offset="0.500" stop-color="#1b1c1e"/><stop offset="0.562" stop-color="#1e1f21"/><stop offset="0.625" stop-color="#212225"/><stop offset="0.688" stop-color="#242528"/><stop offset="0.750" stop-color="#27282b"/><stop offset="0.812" stop-color="#2a2b2e"/><stop offset="0.875" stop-color="#2d2d31"/><stop offset="0.938" stop-color="#2f2f33"/><stop offset="1.000" stop-color="#303034"/></linearGradient>
<linearGradient id="fs44"><stop offset="0.000" stop-color="#101012"/><stop offset="0.062" stop-color="#111213"/><stop offset="0.125" stop-color="#121314"/><stop offset="0.188" stop-color="#131415"/><stop offset="0.250" stop-color="#141416"/><stop offset="0.312" stop-color="#151517"/><stop offset="0.375" stop-color="#161719"/><stop offset="0.438" stop-color="#18181a"/><stop offset="0.500" stop-color="#1a1b1d"/><stop offset="0.562" stop-color="#1d1d20"/><stop offset="0.625" stop-color="#202123"/><stop offset="0.688" stop-color="#232427"/><stop offset="0.750" stop-color="#26272a"/><stop offset="0.812" stop-color="#292a2d"/><stop offset="0.875" stop-color="#2c2c30"/><stop offset="0.938" stop-color="#2e2f32"/><stop offset="1.000" stop-color="#2f3034"/></linearGradient>
<linearGradient id="fs45"><stop offset="0.000" stop-color="#101012"/><stop offset="0.062" stop-color="#111213"/><stop offset="0.125" stop-color="#121314"/><stop offset="0.188" stop-color="#131315"/><stop offset="0.250" stop-color="#131415"/><stop offset="0.312" stop-color="#141516"/><stop offset="0.375" stop-color="#151618"/><stop offset="0.438" stop-color="#171719"/><stop offset="0.500" stop-color="#19191b"/><stop offset="0.562" stop-color="#1c1c1f"/><stop offset="0.625" stop-color="#1f1f22"/><stop offset="0.688" stop-color="#222325"/><stop offset="0.750" stop-color="#252629"/><stop offset="0.812" stop-color="#28292c"/><stop offset="0.875" stop-color="#2b2b2f"/><stop offset="0.938" stop-color="#2d2e31"/><stop offset="1.000" stop-color="#2e2f33"/></linearGradient>
<linearGradient id="fs46"><stop offset="0.000" stop-color="#101011"/><stop offset="0.062" stop-color="#111213"/><stop offset="0.125" stop-color="#121214"/><stop offset="0.188" stop-color="#121314"/><stop offset="0.250" stop-color="#131315"/><stop offset="0.312" stop-color="#131416"/><stop offset="0.375" stop-color="#141517"/><stop offset="0.438" stop-color="#161618"/><stop offset="0.500" stop-color="#18181a"/><stop offset="0.562" stop-color="#1b1b1d"/><stop offset="0.625" stop-color="#1e1e21"/><stop offset="0.688" stop-color="#212124"/><stop offset="0.750" stop-color="#242528"/><stop offset="0.812" stop-color="#27282b"/><stop offset="0.875" stop-color="#2a2b2e"/><stop offset="0.938" stop-color="#2c2d30"/><stop offset="1.000" stop-color="#2d2e32"/></linearGradient>
<linearGradient id="fs47"><stop offset="0.000" stop-color="#0f1011"/><stop offset="0.062" stop-color="#111113"/><stop offset="0.125" stop-color="#121214"/><stop offset="0.188" stop-color="#121214"/><stop offset="0.250" stop-color="#121314"/><stop offset="0.312" stop-color="#131315"/><stop offset="0.375" stop-color="#141416"/><stop offset="0.438" stop-color="#151517"/><stop offset="0.500" stop-color="#171719"/><stop offset="0.562" stop-color="#1a1a1c"/><stop offset="0.625" stop-color="#1d1d20"/><stop offset="0.688" stop-color="#202023"/><stop offset="0.750" stop-color="#232427"/><stop offset="0.812" stop-color="#26272a"/><stop offset="0.875" stop-color="#292a2d"/><stop offset="0.938" stop-color="#2b2c2f"/><stop offset="1.000" stop-color="#2d2d31"/></linearGradient>
<linearGradient id="fs48"><stop offset="0.000" stop-color="#0f1011"/><stop offset="0.062" stop-color="#111113"/><stop offset="0.125" stop-color="#111213"/><stop offset="0.188" stop-color="#111213"/><stop offset="0.250" stop-color="#121214"/><stop offset="0.312" stop-color="#121214"/><stop offset="0.375" stop-color="#131315"/><stop offset="0.438" stop-color="#141416"/><stop offset="0.500" stop-color="#161618"/><stop offset="0.562" stop-color="#18191b"/><stop offset="0.625" stop-color="#1c1c1e"/><stop offset="0.688" stop-color="#1f1f22"/><stop offset="0.750" stop-color="#222225"/><stop offset="0.812" stop-color="#252629"/><stop offset="0.875" stop-color="#28292c"/><stop offset="0.938" stop-color="#2a2b2e"/><stop offset="1.000" stop-color="#2c2c30"/></linearGradient>
<linearGradient id="fs49"><stop offset="0.000" stop-color="#0f1011"/><stop offset="0.062" stop-color="#111113"/><stop offset="0.125" stop-color="#111213"/><stop offset="0.188" stop-color="#111213"/><stop offset="0.250" stop-color="#111113"/><stop offset="0.312" stop-color="#111213"/><stop offset="0.375" stop-color="#121214"/><stop offset="0.438" stop-color="#131315"/><stop offset="0.500" stop-color="#151517"/><stop offset="0.562" stop-color="#18181a"/><stop offset="0.625" stop-color="#1b1b1d"/><stop offset="0.688" stop-color="#1e1e21"/><stop offset="0.750" stop-color="#212124"/><stop offset="0.812" stop-color="#242528"/><stop offset="0.875" stop-color="#27282b"/><stop offset="0.938" stop-color="#292a2d"/><stop offset="1.000" stop-color="#2b2b2f"/></linearGradient>
<linearGradient id="fs50"><stop offset="0.000" stop-color="#0f0f11"/><stop offset="0.062" stop-color="#101112"/><stop offset="0.125" stop-color="#111113"/><stop offset="0.188" stop-color="#111113"/><stop offset="0.250" stop-color="#111113"/><stop offset="0.312" stop-color="#111113"/><stop offset="0.375" stop-color="#121213"/><stop offset="0.438" stop-color="#121315"/><stop offset="0.500" stop-color="#141516"/><stop offset="0.562" stop-color="#171719"/><stop offset="0.625" stop-color="#1a1b1d"/><stop offset="0.688" stop-color="#1d1e20"/><stop offset="0.750" stop-color="#202124"/><stop offset="0.812" stop-color="#242427"/><stop offset="0.875" stop-color="#27272a"/><stop offset="0.938" stop-color="#29292d"/><stop offset="1.000" stop-color="#2a2b2e"/></linearGradient>
  <g id="btn">
    <rect x="-1" y="-1" width="64" height="50" rx="4" fill="#000" opacity="0.35"/>
    <rect x="0" y="0" width="62" height="48" rx="3" fill="#121213"/>
    <rect x="3" y="4" width="57" height="41" rx="2" fill="#39393b"/>
    <g stroke="#111112" stroke-width="6.9" stroke-linecap="round" opacity="0.8">
      <line x1="8.3" y1="21.6" x2="26.2" y2="8.7"/>
      <line x1="12.1" y1="37.6" x2="50.5" y2="10.2"/>
      <line x1="36.8" y1="39.9" x2="54" y2="27.3"/>
    </g>
    <g stroke="#f0f0f2" stroke-width="5.1" stroke-linecap="round">
      <line x1="8.3" y1="21.6" x2="26.2" y2="8.7"/>
      <line x1="12.1" y1="37.6" x2="50.5" y2="10.2"/>
      <line x1="36.8" y1="39.9" x2="54" y2="27.3"/>
    </g>
  </g>

  <g id="dial">
    <circle r="80.5" fill="#000" opacity="0.17"/>
    <circle r="64" fill="url(#knobshadow)"/>
    <circle r="80.5" fill="none" stroke="#062220" stroke-width="4.6" opacity="0.85"/>
    <circle r="80.5" fill="none" stroke="#7fe9d8" stroke-width="2.3"/>
    <g stroke="#062220" stroke-width="6.2" stroke-linecap="round" opacity="0.8"><line x1="0" y1="-60.5" x2="0" y2="-71" transform="rotate(0)"/><line x1="0" y1="-60.5" x2="0" y2="-71" transform="rotate(30)"/><line x1="0" y1="-60.5" x2="0" y2="-71" transform="rotate(60)"/><line x1="0" y1="-60.5" x2="0" y2="-71" transform="rotate(90)"/><line x1="0" y1="-60.5" x2="0" y2="-71" transform="rotate(120)"/><line x1="0" y1="-60.5" x2="0" y2="-71" transform="rotate(150)"/><line x1="0" y1="-60.5" x2="0" y2="-71" transform="rotate(-30)"/><line x1="0" y1="-60.5" x2="0" y2="-71" transform="rotate(-60)"/><line x1="0" y1="-60.5" x2="0" y2="-71" transform="rotate(-90)"/><line x1="0" y1="-60.5" x2="0" y2="-71" transform="rotate(-120)"/><line x1="0" y1="-60.5" x2="0" y2="-71" transform="rotate(-150)"/></g>
    <g stroke="#7ae8d7" stroke-width="3.8" stroke-linecap="round"><line x1="0" y1="-60.5" x2="0" y2="-71" transform="rotate(0)"/><line x1="0" y1="-60.5" x2="0" y2="-71" transform="rotate(30)"/><line x1="0" y1="-60.5" x2="0" y2="-71" transform="rotate(60)"/><line x1="0" y1="-60.5" x2="0" y2="-71" transform="rotate(90)"/><line x1="0" y1="-60.5" x2="0" y2="-71" transform="rotate(120)"/><line x1="0" y1="-60.5" x2="0" y2="-71" transform="rotate(150)"/><line x1="0" y1="-60.5" x2="0" y2="-71" transform="rotate(-30)"/><line x1="0" y1="-60.5" x2="0" y2="-71" transform="rotate(-60)"/><line x1="0" y1="-60.5" x2="0" y2="-71" transform="rotate(-90)"/><line x1="0" y1="-60.5" x2="0" y2="-71" transform="rotate(-120)"/><line x1="0" y1="-60.5" x2="0" y2="-71" transform="rotate(-150)"/></g>
    <circle r="51" fill="url(#skirtL)"/>
    <circle r="51" fill="url(#skirtHL)"/>
    <circle r="51" fill="url(#skirtTop)"/>
    <circle r="43" fill="url(#cap)"/>
    <circle r="43" fill="none" stroke="#2a2a2c" stroke-width="1"/>
  </g>
</defs>

<g font-weight="700" font-style="italic">
<text x="35.06" y="97.00" font-size="88.5" textLength="1372.80" lengthAdjust="spacingAndGlyphs" fill="#128a9e" >Independent Amplification Circuit</text>
<text x="56.46" y="182.50" font-size="88.5" textLength="1326.13" lengthAdjust="spacingAndGlyphs" fill="#128a9e" >Design &amp; No Mutual Interference</text>
</g>
<text x="718.88" y="308.70" font-size="49.5" textLength="475.83" lengthAdjust="spacingAndGlyphs" fill="#1a1a1a" stroke="#fff" stroke-width="0.8">Stereo / Mono Switch</text>
<rect x="293.6" y="358.6" width="60.8" height="30" rx="8" fill="url(#gold)"/>
<rect x="293.6" y="372" width="60.8" height="40" fill="url(#gold)"/>
<rect x="295.6" y="359.5" width="56.8" height="8" rx="4" fill="url(#goldtop)"/>
<rect x="319.4" y="366.5" width="11" height="44" fill="#080808"/>
<rect x="345.0" y="366.5" width="5.6" height="44" fill="#c9921c"/>
<rect x="405.3" y="358.6" width="60.8" height="30" rx="8" fill="url(#gold)"/>
<rect x="405.3" y="372" width="60.8" height="40" fill="url(#gold)"/>
<rect x="407.3" y="359.5" width="56.8" height="8" rx="4" fill="url(#goldtop)"/>
<rect x="431.6" y="366.5" width="11" height="44" fill="#080808"/>
<rect x="409.4" y="366.5" width="5.6" height="44" fill="#c9921c"/>
<rect x="785" y="406.3" width="36.5" height="5" rx="2" fill="#1d1d1e"/>
<rect x="1095.5" y="405" width="64.5" height="6" rx="2" fill="#1d1d1e"/>
<rect x="427" y="1117" width="38" height="6" rx="2" fill="#2c2c2e"/>
<rect x="659" y="1117" width="37" height="6" rx="2" fill="#2c2c2e"/>
<rect x="890" y="1117" width="39" height="6" rx="2" fill="#2c2c2e"/>
<rect x="1128" y="1117" width="38" height="6" rx="2" fill="#2c2c2e"/>
<rect x="184.5" y="466.5" width="19" height="44" rx="6" fill="url(#screw)"/>
<rect x="184.5" y="466.5" width="19" height="44" rx="6" fill="url(#screwx)"/>
<rect x="184.5" y="1011.5" width="19" height="44" rx="6" fill="url(#screw)"/>
<rect x="184.5" y="1011.5" width="19" height="44" rx="6" fill="url(#screwx)"/>
<rect x="1227" y="466" width="19" height="44" rx="6" fill="url(#screw)"/>
<rect x="1227" y="466" width="19" height="44" rx="6" fill="url(#screwx)"/>
<rect x="1227" y="1011" width="19" height="44" rx="6" fill="url(#screw)"/>
<rect x="1227" y="1011" width="19" height="44" rx="6" fill="url(#screwx)"/>
<rect x="202.3" y="409.3" width="1025.7" height="711" rx="1.5" fill="#2a2b2e"/>
<rect x="212.8" y="411.0" width="1008.5" height="14.6" fill="url(#fs0)"/>
<rect x="212.8" y="425.0" width="1008.5" height="14.6" fill="url(#fs1)"/>
<rect x="212.8" y="439.0" width="1008.5" height="14.6" fill="url(#fs2)"/>
<rect x="212.8" y="453.0" width="1008.5" height="14.6" fill="url(#fs3)"/>
<rect x="212.8" y="467.0" width="1008.5" height="14.6" fill="url(#fs4)"/>
<rect x="212.8" y="481.0" width="1008.5" height="14.6" fill="url(#fs5)"/>
<rect x="212.8" y="495.0" width="1008.5" height="14.6" fill="url(#fs6)"/>
<rect x="212.8" y="509.0" width="1008.5" height="14.6" fill="url(#fs7)"/>
<rect x="212.8" y="523.0" width="1008.5" height="14.6" fill="url(#fs8)"/>
<rect x="212.8" y="537.0" width="1008.5" height="14.6" fill="url(#fs9)"/>
<rect x="212.8" y="551.0" width="1008.5" height="14.6" fill="url(#fs10)"/>
<rect x="212.8" y="565.0" width="1008.5" height="14.6" fill="url(#fs11)"/>
<rect x="212.8" y="579.0" width="1008.5" height="14.6" fill="url(#fs12)"/>
<rect x="212.8" y="593.0" width="1008.5" height="14.6" fill="url(#fs13)"/>
<rect x="212.8" y="607.0" width="1008.5" height="14.6" fill="url(#fs14)"/>
<rect x="212.8" y="621.0" width="1008.5" height="14.6" fill="url(#fs15)"/>
<rect x="212.8" y="635.0" width="1008.5" height="14.6" fill="url(#fs16)"/>
<rect x="212.8" y="649.0" width="1008.5" height="14.6" fill="url(#fs17)"/>
<rect x="212.8" y="663.0" width="1008.5" height="14.6" fill="url(#fs18)"/>
<rect x="212.8" y="677.0" width="1008.5" height="14.6" fill="url(#fs19)"/>
<rect x="212.8" y="691.0" width="1008.5" height="14.6" fill="url(#fs20)"/>
<rect x="212.8" y="705.0" width="1008.5" height="14.6" fill="url(#fs21)"/>
<rect x="212.8" y="719.0" width="1008.5" height="14.6" fill="url(#fs22)"/>
<rect x="212.8" y="733.0" width="1008.5" height="14.6" fill="url(#fs23)"/>
<rect x="212.8" y="747.0" width="1008.5" height="14.6" fill="url(#fs24)"/>
<rect x="212.8" y="761.0" width="1008.5" height="14.6" fill="url(#fs25)"/>
<rect x="212.8" y="775.0" width="1008.5" height="14.6" fill="url(#fs26)"/>
<rect x="212.8" y="789.0" width="1008.5" height="14.6" fill="url(#fs27)"/>
<rect x="212.8" y="803.0" width="1008.5" height="14.6" fill="url(#fs28)"/>
<rect x="212.8" y="817.0" width="1008.5" height="14.6" fill="url(#fs29)"/>
<rect x="212.8" y="831.0" width="1008.5" height="14.6" fill="url(#fs30)"/>
<rect x="212.8" y="845.0" width="1008.5" height="14.6" fill="url(#fs31)"/>
<rect x="212.8" y="859.0" width="1008.5" height="14.6" fill="url(#fs32)"/>
<rect x="212.8" y="873.0" width="1008.5" height="14.6" fill="url(#fs33)"/>
<rect x="212.8" y="887.0" width="1008.5" height="14.6" fill="url(#fs34)"/>
<rect x="212.8" y="901.0" width="1008.5" height="14.6" fill="url(#fs35)"/>
<rect x="212.8" y="915.0" width="1008.5" height="14.6" fill="url(#fs36)"/>
<rect x="212.8" y="929.0" width="1008.5" height="14.6" fill="url(#fs37)"/>
<rect x="212.8" y="943.0" width="1008.5" height="14.6" fill="url(#fs38)"/>
<rect x="212.8" y="957.0" width="1008.5" height="14.6" fill="url(#fs39)"/>
<rect x="212.8" y="971.0" width="1008.5" height="14.6" fill="url(#fs40)"/>
<rect x="212.8" y="985.0" width="1008.5" height="14.6" fill="url(#fs41)"/>
<rect x="212.8" y="999.0" width="1008.5" height="14.6" fill="url(#fs42)"/>
<rect x="212.8" y="1013.0" width="1008.5" height="14.6" fill="url(#fs43)"/>
<rect x="212.8" y="1027.0" width="1008.5" height="14.6" fill="url(#fs44)"/>
<rect x="212.8" y="1041.0" width="1008.5" height="14.6" fill="url(#fs45)"/>
<rect x="212.8" y="1055.0" width="1008.5" height="14.6" fill="url(#fs46)"/>
<rect x="212.8" y="1069.0" width="1008.5" height="14.6" fill="url(#fs47)"/>
<rect x="212.8" y="1083.0" width="1008.5" height="14.6" fill="url(#fs48)"/>
<rect x="212.8" y="1097.0" width="1008.5" height="14.6" fill="url(#fs49)"/>
<rect x="212.8" y="1111.0" width="1008.5" height="2.1" fill="url(#fs50)"/>
<rect x="202.3" y="409.3" width="10.5" height="711" fill="url(#sideL)"/>
<rect x="1221.3" y="409.3" width="6.7" height="711" fill="url(#sideR)"/>
<rect x="202.3" y="409.3" width="1025.7" height="1.8" fill="#1f1f21"/>
<rect x="212.8" y="1112.5" width="1008.5" height="3.1" fill="#020202"/>
<rect x="212.8" y="1115.6" width="1008.5" height="4.8" fill="#2f2f31"/>
<rect x="232" y="505" width="968.2" height="412.5" rx="9" fill="none" stroke="#eeeef0" stroke-width="7.6"/>
<use href="#btn" x="353.3" y="553"/>
<use href="#btn" x="646" y="553"/>
<use href="#btn" x="760.1" y="553"/>
<use href="#btn" x="924.6" y="553"/>
<g fill="#f0f0f2">
<rect x="482.5" y="562" width="12.8" height="15"/><rect x="479.1" y="576.6" width="19.6" height="2.6"/>
<rect x="482.5" y="596.5" width="12.8" height="5"/><rect x="479.1" y="601" width="19.6" height="2.6"/>
<rect x="1001.5" y="559" width="13" height="15"/><rect x="998.2" y="573.8" width="19.8" height="2.6"/>
<rect x="1001.5" y="593.5" width="13" height="5"/><rect x="998.2" y="598.5" width="19.8" height="2.6"/>
</g>
<text x="503.96" y="577.80" font-size="16.3" textLength="75.30" lengthAdjust="spacingAndGlyphs" fill="#f3f3f5" class="lbl">CONNECT</text>
<text x="503.94" y="603.60" font-size="15.8" textLength="42.79" lengthAdjust="spacingAndGlyphs" fill="#f3f3f5" class="lbl">MUTE</text>
<text x="1023.31" y="575.80" font-size="15.5" textLength="63.01" lengthAdjust="spacingAndGlyphs" fill="#f3f3f5" class="lbl">STEREO</text>
<text x="1023.33" y="600.60" font-size="15.5" textLength="46.68" lengthAdjust="spacingAndGlyphs" fill="#f3f3f5" class="lbl">MONO</text>
<text x="328.70" y="639.70" font-size="24.3" textLength="99.83" lengthAdjust="spacingAndGlyphs" fill="#f3f3f5" class="lbl">AV MUTE</text>
<text x="611.26" y="638.60" font-size="24.3" textLength="115.56" lengthAdjust="spacingAndGlyphs" fill="#f3f3f5" class="lbl">6.35 MUTE</text>
<text x="738.48" y="638.60" font-size="24.3" textLength="100.26" lengthAdjust="spacingAndGlyphs" fill="#f3f3f5" class="lbl">3.5 MUTE</text>
<text x="1083.67" y="638.90" font-size="24.3" textLength="88.67" lengthAdjust="spacingAndGlyphs" fill="#f3f3f5" class="lbl">POWER</text>
<ellipse cx="1128.5" cy="526" rx="30" ry="10" fill="#a01018" opacity="0.35" filter="url(#glow)"/>
<rect x="1089.8" y="524.8" width="78" height="78.2" rx="2.5" fill="#141415"/>
<rect x="1091.6" y="526.4" width="74.4" height="74.8" rx="1.5" fill="url(#pwr)"/>
<ellipse cx="1128.5" cy="541" rx="40" ry="26" fill="url(#ledglow)"/>
<rect x="1106" y="533" width="45" height="15" rx="4" fill="#ff1a1a" opacity="0.55" filter="url(#glow)"/>
<rect x="1109" y="535.8" width="39" height="9.3" rx="1.5" fill="#e3121c"/>
<rect x="1112" y="538.4" width="33" height="4" rx="2" fill="#ff8e8e" filter="url(#soft)"/>
<use href="#dial" x="326.6" y="758.3"/>
<use href="#dial" x="554.6" y="758.3"/>
<use href="#dial" x="786.6" y="758.3"/>
<use href="#dial" x="1018" y="758.3"/>
<g transform="translate(326.10 756.80) rotate(27.80)"><rect x="-6.6" y="-6.6" width="13.2" height="63.4" rx="6.6" fill="#0a0a0a" opacity="0.7"/><rect x="-5.8" y="-5.8" width="11.6" height="61.8" rx="5.8" fill="#e81c1c"/><rect x="-5.8" y="10" width="11.6" height="46" fill="#e81c1c"/><rect x="-2.6" y="-2.5" width="5.2" height="47" rx="2.5" fill="#ff5a50" opacity="0.5"/><rect x="-5.8" y="48" width="11.6" height="8" fill="#b01010"/><rect x="-5.8" y="46.5" width="11.6" height="2" fill="#ff5a50" opacity="0.9"/></g>
<g transform="translate(554.10 756.80) rotate(27.80)"><rect x="-6.6" y="-6.6" width="13.2" height="63.4" rx="6.6" fill="#0a0a0a" opacity="0.7"/><rect x="-5.8" y="-5.8" width="11.6" height="61.8" rx="5.8" fill="#c22ede"/><rect x="-5.8" y="10" width="11.6" height="46" fill="#c22ede"/><rect x="-2.6" y="-2.5" width="5.2" height="47" rx="2.5" fill="#e070f0" opacity="0.5"/><rect x="-5.8" y="48" width="11.6" height="8" fill="#9a18b0"/><rect x="-5.8" y="46.5" width="11.6" height="2" fill="#e070f0" opacity="0.9"/></g>
<g transform="translate(786.10 756.80) rotate(27.80)"><rect x="-6.6" y="-6.6" width="13.2" height="63.4" rx="6.6" fill="#0a0a0a" opacity="0.7"/><rect x="-5.8" y="-5.8" width="11.6" height="61.8" rx="5.8" fill="#2ed33a"/><rect x="-5.8" y="10" width="11.6" height="46" fill="#2ed33a"/><rect x="-2.6" y="-2.5" width="5.2" height="47" rx="2.5" fill="#7af07e" opacity="0.5"/><rect x="-5.8" y="48" width="11.6" height="8" fill="#18a020"/><rect x="-5.8" y="46.5" width="11.6" height="2" fill="#7af07e" opacity="0.9"/></g>
<g transform="translate(1017.50 756.80) rotate(27.80)"><rect x="-6.6" y="-6.6" width="13.2" height="63.4" rx="6.6" fill="#0a0a0a" opacity="0.7"/><rect x="-5.8" y="-5.8" width="11.6" height="61.8" rx="5.8" fill="#2f66ee"/><rect x="-5.8" y="10" width="11.6" height="46" fill="#2f66ee"/><rect x="-2.6" y="-2.5" width="5.2" height="47" rx="2.5" fill="#6a96ff" opacity="0.5"/><rect x="-5.8" y="48" width="11.6" height="8" fill="#1c44c4"/><rect x="-5.8" y="46.5" width="11.6" height="2" fill="#6a96ff" opacity="0.9"/></g>
<text x="387.73" y="1072.50" font-size="43.6" textLength="651.58" lengthAdjust="spacingAndGlyphs" fill="#f3f3f5" class="lbl">Professional Headphone Amplifier</text>
<g fill="#0e89a0"><rect x="328.85" y="829.30" width="5.5" height="21.70"/><rect x="328.85" y="861.90" width="5.5" height="21.70"/><rect x="328.85" y="894.50" width="5.5" height="21.70"/><rect x="328.85" y="927.10" width="5.5" height="21.70"/><rect x="328.85" y="959.70" width="5.5" height="21.70"/><rect x="328.85" y="992.30" width="5.5" height="21.70"/><rect x="328.85" y="1024.90" width="5.5" height="21.70"/><rect x="328.85" y="1057.50" width="5.5" height="21.70"/><rect x="328.85" y="1090.10" width="5.5" height="21.70"/><rect x="328.85" y="1122.70" width="5.5" height="21.70"/><rect x="328.85" y="1155.30" width="5.5" height="21.40"/><rect x="562.25" y="829.30" width="5.5" height="21.70"/><rect x="562.25" y="861.90" width="5.5" height="21.70"/><rect x="562.25" y="894.50" width="5.5" height="21.70"/><rect x="562.25" y="927.10" width="5.5" height="21.70"/><rect x="562.25" y="959.70" width="5.5" height="21.70"/><rect x="562.25" y="992.30" width="5.5" height="21.70"/><rect x="562.25" y="1024.90" width="5.5" height="21.70"/><rect x="562.25" y="1057.50" width="5.5" height="21.70"/><rect x="562.25" y="1090.10" width="5.5" height="21.70"/><rect x="562.25" y="1122.70" width="5.5" height="21.70"/><rect x="562.25" y="1155.30" width="5.5" height="21.40"/><rect x="793.05" y="829.30" width="5.5" height="21.70"/><rect x="793.05" y="861.90" width="5.5" height="21.70"/><rect x="793.05" y="894.50" width="5.5" height="21.70"/><rect x="793.05" y="927.10" width="5.5" height="21.70"/><rect x="793.05" y="959.70" width="5.5" height="21.70"/><rect x="793.05" y="992.30" width="5.5" height="21.70"/><rect x="793.05" y="1024.90" width="5.5" height="21.70"/><rect x="793.05" y="1057.50" width="5.5" height="21.70"/><rect x="793.05" y="1090.10" width="5.5" height="21.70"/><rect x="793.05" y="1122.70" width="5.5" height="21.70"/><rect x="793.05" y="1155.30" width="5.5" height="21.40"/><rect x="1027.15" y="829.30" width="5.5" height="21.70"/><rect x="1027.15" y="861.90" width="5.5" height="21.70"/><rect x="1027.15" y="894.50" width="5.5" height="21.70"/><rect x="1027.15" y="927.10" width="5.5" height="21.70"/><rect x="1027.15" y="959.70" width="5.5" height="21.70"/><rect x="1027.15" y="992.30" width="5.5" height="21.70"/><rect x="1027.15" y="1024.90" width="5.5" height="21.70"/><rect x="1027.15" y="1057.50" width="5.5" height="21.70"/><rect x="1027.15" y="1090.10" width="5.5" height="21.70"/><rect x="1027.15" y="1122.70" width="5.5" height="21.70"/><rect x="1027.15" y="1155.30" width="5.5" height="21.40"/><rect x="331.47" y="1171.25" width="21.00" height="5.5"/><rect x="364.00" y="1171.25" width="21.00" height="5.5"/><rect x="396.53" y="1171.25" width="21.00" height="5.5"/><rect x="429.06" y="1171.25" width="21.00" height="5.5"/><rect x="461.59" y="1171.25" width="21.00" height="5.5"/><rect x="494.12" y="1171.25" width="21.00" height="5.5"/><rect x="526.65" y="1171.25" width="21.00" height="5.5"/><rect x="559.18" y="1171.25" width="21.00" height="5.5"/><rect x="591.71" y="1171.25" width="21.00" height="5.5"/><rect x="624.24" y="1171.25" width="21.00" height="5.5"/><rect x="656.77" y="1171.25" width="21.00" height="5.5"/><rect x="689.30" y="1171.25" width="21.00" height="5.5"/><rect x="721.83" y="1171.25" width="21.00" height="5.5"/><rect x="754.36" y="1171.25" width="21.00" height="5.5"/><rect x="786.89" y="1171.25" width="21.00" height="5.5"/><rect x="819.42" y="1171.25" width="21.00" height="5.5"/><rect x="851.95" y="1171.25" width="21.00" height="5.5"/><rect x="884.48" y="1171.25" width="21.00" height="5.5"/><rect x="917.01" y="1171.25" width="21.00" height="5.5"/><rect x="949.54" y="1171.25" width="21.00" height="5.5"/><rect x="982.07" y="1171.25" width="21.00" height="5.5"/><rect x="1014.60" y="1171.25" width="18.00" height="5.5"/><rect x="328.9" y="1171.2" width="23.7" height="5.5"/><rect x="665.45" y="1171.50" width="5.5" height="21.70"/><rect x="665.45" y="1204.10" width="5.5" height="21.70"/><rect x="665.45" y="1236.70" width="5.5" height="21.70"/><rect x="665.45" y="1269.30" width="5.5" height="14.20"/><rect x="958.45" y="325.00" width="5.5" height="1.86"/><rect x="958.45" y="338.00" width="5.5" height="21.30"/><rect x="958.45" y="370.44" width="5.5" height="21.30"/><rect x="958.45" y="402.88" width="5.5" height="21.30"/><rect x="958.45" y="435.32" width="5.5" height="21.30"/><rect x="958.45" y="467.76" width="5.5" height="21.30"/><rect x="958.45" y="500.20" width="5.5" height="21.30"/><rect x="958.45" y="532.64" width="5.5" height="20.36"/></g>
<text x="280.68" y="857.80" font-size="24" textLength="12.25" lengthAdjust="spacingAndGlyphs" fill="#f3f3f5" class="lbl">0</text>
<text x="353.62" y="857.80" font-size="24" textLength="25.03" lengthAdjust="spacingAndGlyphs" fill="#f3f3f5" class="lbl">10</text>
<text x="283.51" y="898.80" font-size="23.5" textLength="87.04" lengthAdjust="spacingAndGlyphs" fill="#f3f3f5" class="lbl">LEVEL 1</text>
<text x="509.08" y="857.80" font-size="24" textLength="12.25" lengthAdjust="spacingAndGlyphs" fill="#f3f3f5" class="lbl">0</text>
<text x="580.43" y="857.80" font-size="24" textLength="23.59" lengthAdjust="spacingAndGlyphs" fill="#f3f3f5" class="lbl">10</text>
<text x="513.03" y="898.80" font-size="23.5" textLength="90.45" lengthAdjust="spacingAndGlyphs" fill="#f3f3f5" class="lbl">LEVEL 2</text>
<text x="740.28" y="857.80" font-size="24" textLength="12.25" lengthAdjust="spacingAndGlyphs" fill="#f3f3f5" class="lbl">0</text>
<text x="813.19" y="857.80" font-size="24" textLength="25.48" lengthAdjust="spacingAndGlyphs" fill="#f3f3f5" class="lbl">10</text>
<text x="742.13" y="898.80" font-size="23.5" textLength="90.45" lengthAdjust="spacingAndGlyphs" fill="#f3f3f5" class="lbl">LEVEL 3</text>
<text x="971.98" y="857.80" font-size="24" textLength="12.25" lengthAdjust="spacingAndGlyphs" fill="#f3f3f5" class="lbl">0</text>
<text x="1041.60" y="857.80" font-size="24" textLength="25.37" lengthAdjust="spacingAndGlyphs" fill="#f3f3f5" class="lbl">10</text>
<text x="975.94" y="898.80" font-size="23.5" textLength="90.03" lengthAdjust="spacingAndGlyphs" fill="#f3f3f5" class="lbl">LEVEL 4</text>
<g fill="#e6e6e8">
<rect x="544" y="992.2" width="88" height="1.5"/><rect x="544" y="996.4" width="88" height="1.5"/>
<rect x="798.7" y="992.2" width="88.3" height="1.5"/><rect x="798.7" y="996.4" width="88.3" height="1.5"/>
</g>
<g transform="translate(640 965) scale(0.10381)" fill="#3ebdae" stroke="none" clip-path="url(#logoclip)">
<polygon points="118,108 208,108 252,195 218,242"/>
<path d="M378,108 Q268,250 268,450" fill="none" stroke="#3ebdae" stroke-width="66"/>
<path d="M699.3,186.1 A138,138 0 1 0 705.7,370.7" fill="none" stroke="#3ebdae" stroke-width="66"/>
<rect x="585" y="250" width="162" height="60"/>
<circle cx="815" cy="140" r="34"/><rect x="782" y="200" width="67" height="250"/>
<rect x="880" y="108" width="207" height="67"/><rect x="950" y="108" width="68" height="342"/>
<rect x="1120" y="108" width="67" height="342"/>
<path d="M1278,108 Q1192,280 1282,450" fill="none" stroke="#3ebdae" stroke-width="66"/>
</g>
<circle cx="330.6" cy="807.6" r="20.5" fill="#128aa6" opacity="0.55"/>
<circle cx="331.0" cy="807.1" r="8.3" fill="#1596b2"/>
<rect x="328.8" y="807.1" width="4.4" height="10" fill="#1596b2"/>
<circle cx="564.6" cy="807.4" r="20.5" fill="#128aa6" opacity="0.55"/>
<circle cx="565.0" cy="806.9" r="8.3" fill="#1596b2"/>
<rect x="562.8" y="806.9" width="4.4" height="10" fill="#1596b2"/>
<circle cx="795.6" cy="807.5" r="20.5" fill="#128aa6" opacity="0.55"/>
<circle cx="796.0" cy="807.0" r="8.3" fill="#1596b2"/>
<rect x="793.8" y="807.0" width="4.4" height="10" fill="#1596b2"/>
<circle cx="1029.6" cy="806.8" r="20.5" fill="#128aa6" opacity="0.55"/>
<circle cx="1030.0" cy="806.3" r="8.3" fill="#1596b2"/>
<rect x="1027.8" y="806.3" width="4.4" height="10" fill="#1596b2"/>
<circle cx="960.2" cy="553.5" r="20.5" fill="#128aa6" opacity="0.55"/>
<circle cx="960.6" cy="553.0" r="8.3" fill="#1596b2"/>
<rect x="958.4" y="553.0" width="4.4" height="10" fill="#1596b2"/>
<text x="297.81" y="1328.40" font-size="48.4" textLength="788.82" lengthAdjust="spacingAndGlyphs" fill="#1a1a1a" stroke="#fff" stroke-width="0.8">Four Independent Volume Control :</text>
<text x="299.30" y="1390.40" font-size="48.4" textLength="786.51" lengthAdjust="spacingAndGlyphs" fill="#1a1a1a" stroke="#fff" stroke-width="0.8">Adjust the Ideal Monitoring Volume</text>
</svg>
</body></html>
